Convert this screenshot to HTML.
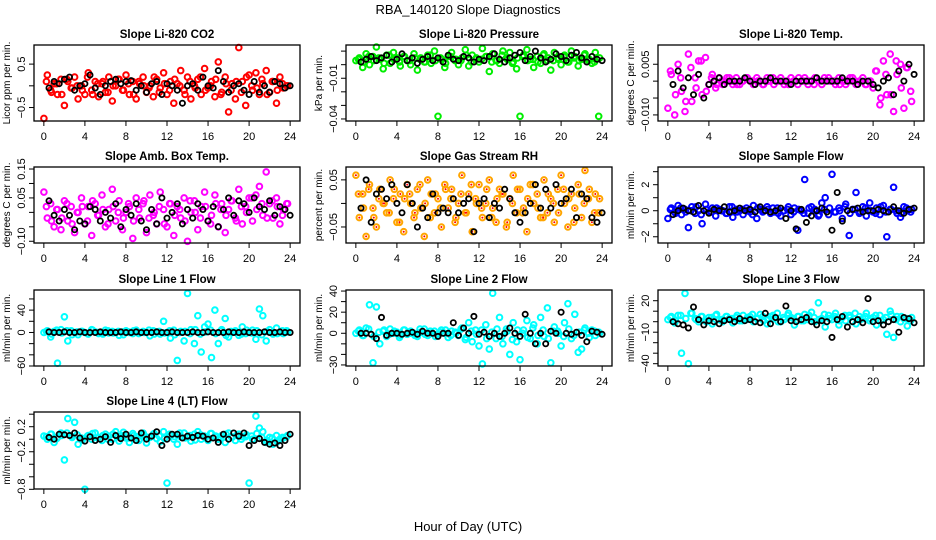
<!DOCTYPE html>
<html><head><meta charset="utf-8"><style>
html,body{margin:0;padding:0;background:#fff;}
svg{display:block;font-family:"Liberation Sans",sans-serif;}
</style></head><body>
<svg id="chart" width="936" height="540" viewBox="0 0 936 540" xmlns="http://www.w3.org/2000/svg">
<text x="468" y="14" text-anchor="middle" font-size="13">RBA_140120  Slope Diagnostics</text>
<text x="468" y="531" text-anchor="middle" font-size="13">Hour of Day (UTC)</text>
</svg>
<script>
const hourTicks = [0,4,8,12,16,20,24];

const co2Col = [-0.75,0.25,-0.1,0.05,-0.2,0.15,-0.45,0.1,-0.05,0.2,-0.3,0.0,-0.2,0.3,-0.1,0.1,-0.25,0.05,-0.15,0.2,-0.35,0.0,0.15,-0.1,0.25,-0.2,0.1,-0.3,0.05,0.2,-0.15,0.0,-0.25,0.15,-0.05,0.3,-0.2,0.1,-0.4,0.05,0.35,-0.1,0.2,-0.3,0.0,0.15,-0.2,0.4,-0.05,0.1,-0.25,0.55,-0.15,0.2,-0.6,0.05,-0.3,0.88,0.1,-0.45,0.25,-0.1,0.3,-0.2,0.05,0.35,-0.15,0.1,-0.4,0.2,-0.05,0.0];
const co2Col2 = [0.1,-0.15,0.05,-0.2,0.15,-0.05,0.0,-0.1,0.2,-0.2,0.05,0.1,-0.15,0.0,0.15,-0.1,0.05,-0.2,0.1,0.0,-0.05,0.2,-0.15,0.05,-0.1,0.15,0.0,-0.2,0.1,-0.05,0.2,-0.1,0.0,0.15,-0.2,0.05,-0.1,0.1,-0.15,0.2,0.0,-0.05,0.15,-0.2,0.1,-0.1,0.05,0.0];
const co2Blk = [-0.05,0.1,0.05,0.15,0.2,-0.1,0.0,0.05,0.25,-0.05,-0.2,0.0,0.1,0.15,0.05,0.1,0.12,-0.1,0.0,-0.15,0.05,0.1,-0.2,0.05,0.0,-0.1,-0.4,0.0,0.05,-0.1,0.2,0.0,-0.05,0.35,0.1,-0.15,0.0,0.05,-0.1,-0.2,0.1,-0.15,0.0,-0.15,0.1,0.05,-0.05,0.0];

const presCol = [0.003,0.005,-0.002,0.008,0.000,0.006,0.013,0.004,-0.003,0.007,0.001,0.009,0.005,-0.001,0.006,0.003,0.000,0.008,-0.004,0.005,0.002,0.007,0.001,0.010,-0.038,0.004,-0.002,0.006,0.009,0.003,0.000,0.005,0.011,-0.001,0.007,0.004,0.002,0.012,0.006,-0.005,0.008,0.003,0.001,0.010,0.005,0.009,0.002,-0.003,-0.038,0.007,0.011,0.004,-0.002,0.006,0.001,0.008,0.003,-0.004,0.009,0.005,0.000,0.007,0.002,0.010,0.006,-0.001,0.004,0.008,0.003,0.001,0.009,-0.038];
const presCol2 = [0.004,0.002,0.006,0.003,0.005,0.001,0.007,0.004,0.002,0.006,0.003,0.005,0.004,0.002,0.007,0.003,0.005,0.001,0.006,0.004,0.003,0.007,0.002,0.005,0.004,0.006,0.002,0.003,0.007,0.004,0.001,0.005,0.006,0.003,0.004,0.002,0.007,0.005,0.003,0.004,0.006,0.002,0.005,0.003,0.007,0.004,0.002,0.005];
const presBlk = [0.002,0.004,0.006,0.003,0.005,0.007,0.002,0.004,0.008,0.003,0.005,0.001,0.004,0.006,0.003,0.005,0.002,0.007,0.004,0.003,0.006,0.005,0.002,0.004,0.003,0.006,0.008,0.004,0.002,0.005,0.007,0.009,0.003,0.006,0.010,0.005,0.002,0.004,0.008,0.006,0.003,0.007,0.009,0.005,0.002,0.006,0.004,0.003];

const tempCol = [-0.008,0.002,-0.010,0.005,-0.003,-0.009,0.008,-0.006,0.001,0.006,-0.004,0.007,-0.001,0.002,-0.002,0.001,-0.001,0,0.001,-0.001,0.001,-0.001,0,0.001,0,-0.001,0.001,0,-0.001,0.001,0,-0.001,0,0.001,-0.001,0,0.001,0,-0.001,0,0.001,-0.001,0,0.001,0,-0.001,0,0.001,0,-0.001,0.001,0,-0.001,0,0.001,-0.001,0,0.001,-0.001,0,-0.002,0.003,-0.007,0.006,-0.004,0.008,-0.009,0.002,0.005,-0.008,0.004,-0.003];
const tempCol2 = [0.003,-0.004,0.001,-0.006,0.004,-0.002,0.006,-0.003,0.001,-0.001,0,0.001,0,-0.001,0,0.001,0,0,-0.001,0,0.001,0,0,-0.001,0,0.001,0,0,-0.001,0,0.001,0,0,-0.001,0,0.001,0,0,-0.001,0,0.003,-0.005,0.002,-0.004,0.006,-0.002,0.004,-0.006];
const tempBlk = [-0.001,0.003,-0.002,0.001,-0.004,0.002,-0.005,-0.001,0,0.001,-0.001,0,0,0,0.001,0,-0.001,0,0,0.001,0,0,0,-0.001,0,0,0,0,0.001,0,0,0,0,0.001,0,0,-0.001,0,0,-0.001,-0.002,0,0.001,-0.004,0.003,0,0.005,0.002];

const ambCol = [0.07,-0.02,0.03,-0.05,0.01,-0.06,0.04,-0.03,0.02,-0.07,0.00,0.05,-0.04,0.02,-0.08,0.03,-0.01,0.06,-0.05,0.01,0.08,-0.03,0.04,-0.06,0.00,0.02,-0.09,0.05,-0.02,0.03,-0.07,0.06,-0.01,-0.04,0.07,0.01,-0.05,0.03,-0.08,0.02,-0.02,0.05,-0.10,0.00,0.04,-0.06,0.02,0.07,-0.03,-0.01,0.06,-0.05,0.03,-0.07,0.01,0.04,-0.02,0.08,-0.04,0.02,0.05,-0.03,0.06,0.09,-0.01,0.14,0.03,-0.02,0.05,-0.04,0.01,0.03];
const ambCol2 = [0.02,-0.03,0.01,-0.02,0.03,-0.04,0.00,0.02,-0.03,0.04,-0.01,0.01,-0.04,0.02,0.00,-0.02,0.03,-0.03,0.01,0.04,-0.02,0.00,0.02,-0.04,0.03,-0.01,0.01,-0.03,0.04,0.00,-0.02,0.02,-0.04,0.03,0.01,-0.01,0.04,-0.03,0.02,0.00,0.05,0.01,0.03,-0.02,0.04,0.02,-0.01,0.03];
const ambBlk = [0.04,-0.01,-0.03,0.01,-0.01,-0.06,-0.03,-0.04,0.02,0.01,-0.03,0.00,-0.02,0.03,-0.05,0.01,-0.01,0.03,-0.03,-0.06,0.01,-0.04,0.05,-0.02,0.00,0.03,-0.04,0.01,-0.02,0.03,0.01,-0.03,0.02,-0.05,0.01,0.05,-0.01,0.04,0.03,0.00,0.05,0.02,0.01,0.04,-0.01,0.02,0.01,-0.01];

const rhCol = [0.06,-0.03,0.02,-0.07,0.04,-0.01,-0.05,0.03,0.00,-0.02,0.05,0.01,-0.04,0.02,-0.06,0.04,0.00,-0.03,0.03,-0.01,-0.07,0.05,0.02,-0.02,0.01,-0.05,0.04,-0.01,0.03,-0.04,0.00,0.06,-0.02,0.02,-0.06,0.01,0.04,-0.03,0.00,0.05,-0.01,-0.04,0.03,0.02,-0.05,0.01,0.06,-0.02,0.03,-0.01,-0.06,0.04,0.00,0.02,-0.03,0.05,-0.02,0.01,-0.04,0.03,0.06,0.00,-0.05,0.02,-0.01,0.04,-0.03,0.07,0.01,-0.04,0.02,-0.02];
const rhCol2 = [0.02,-0.01,0.03,-0.03,0.01,0.00,-0.02,0.03,-0.04,0.01,0.02,-0.02,0.04,0.00,-0.03,0.02,-0.01,0.03,0.01,-0.03,0.02,-0.02,0.04,0.00,-0.01,0.03,-0.03,0.01,0.02,-0.04,0.00,0.03,-0.02,0.01,0.04,-0.01,-0.03,0.02,0.00,-0.02,0.03,0.01,-0.04,0.02,0.00,0.03,-0.02,0.01];
const rhBlk = [-0.01,0.05,-0.04,0.02,0.03,0.01,0.04,0.00,-0.02,0.04,0.00,-0.05,-0.01,-0.03,0.02,-0.02,-0.01,-0.02,0.01,-0.02,0.00,0.01,-0.06,0.00,0.01,-0.03,0.00,-0.01,0.03,0.01,-0.02,-0.04,-0.02,0.00,0.04,-0.01,0.03,-0.01,0.04,0.00,0.01,0.03,-0.03,0.02,0.01,-0.03,-0.04,-0.02];

const flowCol = [-0.6,0.2,-0.1,0.4,-0.3,0.1,-1.3,0.3,-0.2,0.0,-1.0,0.5,-0.1,0.2,-0.4,0.1,0.0,-0.2,0.3,-0.5,0.1,0.0,-0.3,0.2,-0.1,0.4,-0.6,0.1,0.0,0.3,-0.2,-0.1,0.2,-0.4,0.0,0.1,-0.3,0.2,-1.5,0.0,2.4,-0.2,0.3,0.1,-0.4,0.6,1.0,-0.3,2.8,-0.1,0.2,-0.6,0.5,-1.9,0.1,1.4,-0.2,0.3,-0.4,0.6,-0.1,0.2,-0.3,0.4,-2.0,0.1,1.8,-0.2,-0.5,0.3,0.0,-0.1];
const flowCol2 = [0.1,-0.2,0.2,-0.1,0.0,0.3,-0.3,0.1,-0.1,0.2,0.0,-0.2,0.3,-0.1,0.1,0.0,-0.3,0.2,-0.1,0.1,0.2,-0.2,0.0,0.3,-0.1,0.1,-0.2,0.2,0.0,-0.3,0.1,0.2,-0.1,0.0,0.3,-0.2,0.1,-0.1,0.2,0.0,-0.2,0.3,-0.1,0.1,0.0,-0.2,0.2,0.1];
const flowBlk = [-0.3,0.0,0.2,0.0,-0.1,0.4,0.0,-0.2,0.1,0.0,0.3,-0.1,0.0,0.2,0.0,0.1,-0.1,0.3,0.0,-0.1,0.0,0.2,-0.6,0.0,-1.4,0.1,-0.9,-0.4,0.0,0.2,-0.1,-1.5,1.4,-0.8,0.0,0.1,0.2,-0.1,0.0,0.0,0.1,0.0,-0.1,0.3,0.0,-0.2,0.1,0.2];

const l1Col = [0,3,-8,2,-55,5,28,-15,3,0,-4,2,0,-3,5,1,-2,0,4,-1,2,0,-5,1,3,0,-2,4,-1,2,0,-6,3,1,-3,20,0,-10,4,-50,2,-15,70,5,-20,30,-35,10,15,-45,40,-20,5,25,-8,0,3,-5,10,-2,0,4,-12,42,30,-15,5,-3,8,0,-2,3];
const l1Col2 = [2,-3,4,-1,3,-4,1,2,-2,4,0,-3,3,-1,2,-4,1,3,-2,0,4,-3,2,-1,3,-4,0,2,-2,5,-3,1,4,-2,3,-5,2,0,-3,4,-1,3,-4,2,0,-2,3,1];
const l1Blk = [1,0,0,1,0,0,1,0,0,0,1,0,0,0,1,0,0,1,0,0,0,1,0,0,1,0,0,0,1,0,0,1,0,0,0,1,0,0,1,0,0,0,1,0,0,1,0,0];

const l2Col = [0,3,-2,5,27,-28,25,-10,2,-3,4,0,1,-2,3,-1,2,0,-3,1,4,-2,0,2,-1,3,0,-4,2,1,-2,5,-6,10,-8,3,-12,-29,8,-15,38,-5,15,-10,4,-20,10,-8,-25,3,12,-5,8,-10,15,-3,24,-28,6,2,-12,10,28,-5,18,-18,-15,5,0,3,-2,1];
const l2Col2 = [2,-2,4,-3,1,3,-1,2,-4,3,0,-2,4,-1,2,-3,1,3,-2,0,4,-4,2,-1,3,-5,1,4,-3,2,-6,3,0,-4,5,-2,3,-5,2,0,-3,4,-2,1,3,-4,2,0];
const l2Blk = [0,0,-1,-5,15,-2,0,0,-1,0,1,-1,2,0,0,-3,0,0,10,-2,5,0,16,-1,1,-3,0,-3,0,5,0,-3,18,0,-10,0,-10,2,0,20,0,-1,1,-2,-8,2,1,-1];

const l3Col = [2,5,-1,6,-30,27,-40,8,3,0,5,1,4,-2,6,2,0,5,3,-1,4,1,6,2,5,0,3,7,1,-2,5,3,8,0,2,6,4,-3,5,1,7,2,9,0,18,3,-5,6,2,8,-3,4,1,6,0,-2,5,3,8,1,4,-3,6,2,-12,10,-15,5,0,3,-4,1];
const l3Col2 = [4,1,6,3,8,2,5,0,4,7,2,5,3,6,1,4,7,3,5,2,6,0,4,8,3,5,1,6,4,2,7,3,5,1,6,4,8,2,5,3,6,1,4,7,2,5,3,4];
const l3Blk = [0,-2,-3,-6,14,2,-3,1,0,-2,1,2,0,3,1,2,0,-1,8,-2,4,0,15,1,0,2,4,0,-3,1,0,-15,2,5,-5,0,2,-1,22,0,1,-3,0,2,-10,4,3,-1];

const l4Col = [0.05,0.00,0.08,-0.05,0.03,0.10,-0.33,0.33,0.05,0.27,-0.08,0.02,-0.80,0.06,0.00,0.10,0.03,-0.02,0.08,0.05,0.00,0.12,-0.03,0.06,0.02,-0.05,0.09,0.04,0.00,0.10,-0.06,0.03,0.08,0.01,-0.04,0.12,-0.70,0.05,0.00,-0.08,0.04,0.10,0.03,-0.03,0.08,0.12,0.00,0.05,-0.02,0.09,0.04,0.00,0.06,-0.05,0.10,0.03,-0.02,0.08,0.04,0.04,-0.70,0.00,0.37,0.18,0.12,-0.05,0.03,-0.08,0.06,0.00,0.02,0.04];
const l4Col2 = [0.04,0.08,0.01,0.06,0.10,0.03,0.07,-0.01,0.05,0.09,0.02,0.06,0.00,0.08,0.04,0.11,0.02,0.06,-0.02,0.07,0.03,0.09,0.05,0.01,0.08,0.04,0.10,0.02,0.06,-0.01,0.07,0.03,0.09,0.05,0.02,0.08,0.04,0.06,0.00,0.07,0.05,0.09,0.03,-0.02,0.02,-0.04,0.03,0.06];
const l4Blk = [0.03,0.00,0.08,0.07,0.06,0.10,0.02,-0.03,0.04,-0.02,0.00,0.04,-0.05,0.06,0.01,0.08,0.02,-0.02,0.10,0.00,0.05,0.12,-0.10,0.00,0.08,0.08,0.02,0.05,0.03,0.06,0.05,0.00,0.02,-0.05,0.08,0.00,0.10,0.05,0.10,-0.10,-0.02,0.01,-0.05,-0.08,-0.06,-0.10,-0.02,0.08];

const panels = [
 {name:'co2',title:'Slope Li-820 CO2',ytitle:'Licor ppm per min.',col:0,row:0,ymin:-0.81,ymax:0.94,ticks:[0.5,0,-0.5],labels:['0.5','-0.5'],color:'#ff0000',c:co2Col,c2:co2Col2,b:co2Blk},
 {name:'pressure',title:'Slope Li-820 Pressure',ytitle:'kPa per min.',col:1,row:0,ymin:-0.0415,ymax:0.0145,ticks:[0.01,0,-0.01,-0.02,-0.03,-0.04],labels:['-0.01','-0.04'],color:'#00ee00',c:presCol,c2:presCol2,b:presBlk},
 {name:'temp',title:'Slope Li-820 Temp.',ytitle:'degrees C per min.',col:2,row:0,ymin:-0.0118,ymax:0.0107,ticks:[0.005,0,-0.005,-0.01],labels:['0.005','-0.010'],color:'#ff00ff',c:tempCol,c2:tempCol2,b:tempBlk},
 {name:'amb-box-temp',title:'Slope Amb. Box Temp.',ytitle:'degrees C per min.',col:0,row:1,ymin:-0.106,ymax:0.157,ticks:[0.15,0.1,0.05,0,-0.05,-0.1],labels:['0.15','0.05','-0.10'],color:'#ff00ff',c:ambCol,c2:ambCol2,b:ambBlk},
 {name:'gas-rh',title:'Slope Gas Stream RH',ytitle:'percent per min.',col:1,row:1,ymin:-0.084,ymax:0.0773,ticks:[0.05,0,-0.05],labels:['0.05','-0.05'],color:'#ffa500',c:rhCol,c2:rhCol2,b:rhBlk},
 {name:'sample-flow',title:'Slope Sample Flow',ytitle:'ml/min per min.',col:2,row:1,ymin:-2.48,ymax:3.36,ticks:[3,2,1,0,-1,-2],labels:['2','0','-2'],color:'#0000ff',c:flowCol,c2:flowCol2,b:flowBlk},
 {name:'line1-flow',title:'Slope Line 1 Flow',ytitle:'ml/min per min.',col:0,row:2,ymin:-60,ymax:76,ticks:[60,40,20,0,-20,-40,-60],labels:['40','0','-60'],color:'#00ffff',c:l1Col,c2:l1Col2,b:l1Blk},
 {name:'line2-flow',title:'Slope Line 2 Flow',ytitle:'ml/min per min.',col:1,row:2,ymin:-31,ymax:41,ticks:[40,30,20,10,0,-10,-20,-30],labels:['40','20','0','-30'],color:'#00ffff',c:l2Col,c2:l2Col2,b:l2Blk},
 {name:'line3-flow',title:'Slope Line 3 Flow',ytitle:'ml/min per min.',col:2,row:2,ymin:-42.2,ymax:30.2,ticks:[20,10,0,-10,-20,-30,-40],labels:['20','-10','-40'],color:'#00ffff',c:l3Col,c2:l3Col2,b:l3Blk},
 {name:'line4-flow',title:'Slope Line 4 (LT) Flow',ytitle:'ml/min per min.',col:0,row:3,ymin:-0.795,ymax:0.435,ticks:[0.4,0.2,0,-0.2,-0.4,-0.6,-0.8],labels:['0.2','-0.2','-0.8'],color:'#00ffff',c:l4Col,c2:l4Col2,b:l4Blk}
];

const NS='http://www.w3.org/2000/svg';
const svg=document.getElementById('chart');
const colX=[34,346,658], rowY=[45,167,290,412], W=266, H=76;
function mk(tag,attrs,parent){const e=document.createElementNS(NS,tag);for(const k in attrs)e.setAttribute(k,attrs[k]);parent.appendChild(e);return e;}
function fmt(v){return String(v).replace('-','\u2212');}

panels.forEach(p=>{
  const L=colX[p.col], T=rowY[p.row], B=T+H+(p.row===3?1:0), R=L+W;
  const xs=h=>L+W*(h+0.96)/25.92;
  const ys=v=>B-(v-p.ymin)/(p.ymax-p.ymin)*(B-T);
  const g=mk('g',{},svg);
  
  
  const t=mk('text',{x:(L+R)/2,y:T-7,'text-anchor':'middle','font-size':'11.5','font-weight':'bold'},g);
  t.textContent=p.title;
  
  
  const yt=mk('text',{transform:`translate(${L-24},${(T+B)/2}) rotate(-90)`,'text-anchor':'middle','font-size':'10'},g);
  yt.textContent=p.ytitle;
  
  
  const pts=mk('g',{fill:'none','stroke-width':'2'},g);
  
  
  function drawCol(arr,off){
    arr.forEach((v,i)=>{
      const h=(i+off)*24/arr.length;
      const c=mk('circle',{cx:xs(h).toFixed(1),cy:ys(v).toFixed(1),r:2.8,stroke:p.color},pts);
      
      
      if(p.name==='gas-rh'){const d=mk('circle',{cx:xs(h).toFixed(1),cy:ys(v).toFixed(1),r:1,fill:'#ff0000',stroke:'none'},pts);
        
        }
    });
  }
  drawCol(p.c,0);
  drawCol(p.c2,0.5);
  const bp=mk('g',{fill:'none',stroke:'#000','stroke-width':'1.8'},g);
  
  
  p.b.forEach((v,i)=>{
    const h=0.5+i*23.5/(p.b.length-1);
    const c=mk('circle',{cx:xs(h).toFixed(1),cy:ys(v).toFixed(1),r:2.6},bp);
    
    
  });
  const box=mk('rect',{x:L,y:T,width:W,height:B-T,fill:'none',stroke:'#000','stroke-width':'1.3'},g);
  
  
  const xa=mk('g',{stroke:'#000','stroke-width':'1'},g);
  
  
  mk('line',{x1:xs(0),x2:xs(24),y1:B,y2:B},xa);
  hourTicks.forEach(h=>{
    mk('line',{x1:xs(h),x2:xs(h),y1:B,y2:B+5},xa);
    const lt=mk('text',{x:xs(h),y:B+19,'text-anchor':'middle','font-size':'11',stroke:'none',fill:'#000'},xa);
    lt.textContent=h;
    
    
  });
  const ya=mk('g',{stroke:'#000','stroke-width':'1'},g);
  
  
  const tmax=Math.max(...p.ticks), tmin=Math.min(...p.ticks);
  mk('line',{x1:L,x2:L,y1:ys(tmax),y2:ys(tmin)},ya);
  p.ticks.forEach(v=>{mk('line',{x1:L-5,x2:L,y1:ys(v),y2:ys(v)},ya);});
  p.labels.forEach(s=>{
    const v=parseFloat(s);
    const lt=mk('text',{transform:`translate(${L-9},${ys(v)}) rotate(-90)`,'text-anchor':'middle','font-size':'11',stroke:'none',fill:'#000'},ya);
    lt.textContent=fmt(s);
    
    
  });
});
</script>
</body></html>
